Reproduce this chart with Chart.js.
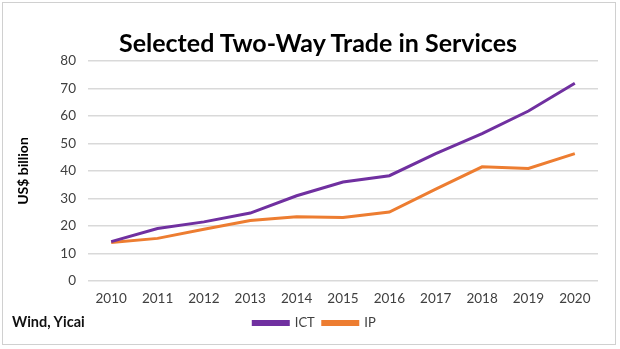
<!DOCTYPE html>
<html>
<head>
<meta charset="utf-8">
<script src="https://cdn.jsdelivr.net/npm/chart.js@4"></script>
<style>
  html, body { margin: 0; padding: 0; background: #fff; }
  #wrap { position: relative; width: 620px; height: 349px; }
  #frame { position: absolute; left: 2px; top: 2px; width: 614px; height: 343px; border: 1px solid #d0d0d0; box-sizing: border-box; pointer-events: none; }
  #title { position: absolute; left: 98px; top: 27px; width: 440px; text-align: center; font: bold 25px/30px Lato, sans-serif; color: #000; }
  #source { position: absolute; left: 12px; top: 313px; font: bold 14.5px Lato, sans-serif; color: #111; }
</style>
</head>
<body>
<div id="wrap">
  <canvas id="chart" width="620" height="349"></canvas>
  <div id="frame"></div>
  <div id="title">Selected Two-Way Trade in Services</div>
  <div id="source">Wind, Yicai</div>
</div>
<script>
// ── Data ────────────────────────────────────────────────────
const years = ["2010", "2011", "2012", "2013", "2014", "2015", "2016", "2017", "2018", "2019", "2020"];
const ictValues = [14.3, 19.1, 21.5, 24.7, 31.0, 36.0, 38.3, 46.3, 53.6, 61.8, 71.9];
const ipValues = [14.0, 15.5, 18.8, 22.0, 23.4, 23.1, 25.1, 33.4, 41.5, 40.9, 46.3];
const yTicks = [0, 10, 20, 30, 40, 50, 60, 70, 80];

const PURPLE = "#7030a0";
const ORANGE = "#ed7d31";
const FONT = "Lato, 'Open Sans', sans-serif";

// ── Chart ───────────────────────────────────────────────────
const ctx = document.getElementById("chart").getContext("2d");
new Chart(ctx, {
  type: "line",
  data: {
    labels: years,
    datasets: [
      {
        label: "ICT",
        data: ictValues,
        borderColor: PURPLE,
        backgroundColor: PURPLE,
        borderWidth: 3,
        pointRadius: 0,
        tension: 0
      },
      {
        label: "IP",
        data: ipValues,
        borderColor: ORANGE,
        backgroundColor: ORANGE,
        borderWidth: 3,
        pointRadius: 0,
        tension: 0
      }
    ]
  },
  options: {
    responsive: false,
    animation: false,
    // right padding negative so the legend centres like the original;
    // the hidden right axis keeps the plot edge at the same place
    layout: { padding: { left: 0, right: -9, top: 61, bottom: 9.5 } },
    plugins: {
      title: { display: false },
      legend: {
        position: "bottom",
        labels: {
          color: "#404040",
          font: { family: FONT, size: 13 },
          boxWidth: 35,
          boxHeight: 3,
          padding: 8
        }
      },
      tooltip: { enabled: false }
    },
    scales: {
      x: {
        offset: true,
        grid: { display: false, drawTicks: false },
        border: { display: false },
        ticks: { color: "#404040", font: { family: FONT, size: 13.5 }, padding: 10, maxRotation: 0 },
        afterFit: (s) => { s.height = 27.5; }
      },
      y: {
        min: 0,
        max: 80,
        afterBuildTicks: (s) => { s.ticks = yTicks.map((v) => ({ value: v })); },
        grid: { color: "#d9d9d9", lineWidth: 1.5, drawTicks: false },
        border: { display: false },
        ticks: { color: "#404040", font: { family: FONT, size: 13.5 }, padding: 12 },
        title: {
          display: true,
          text: "US$ billion",
          color: "#000",
          font: { family: FONT, size: 14, weight: "bold" },
          padding: { top: 15, bottom: 0 }
        },
        afterFit: (s) => { s.width = 88; }
      },
      y2: {
        position: "right",
        min: 0,
        max: 80,
        grid: { display: false, drawTicks: false },
        border: { display: false },
        ticks: { display: false },
        afterFit: (s) => { s.width = 31; }
      }
    }
  }
});
</script>
</body>
</html>
